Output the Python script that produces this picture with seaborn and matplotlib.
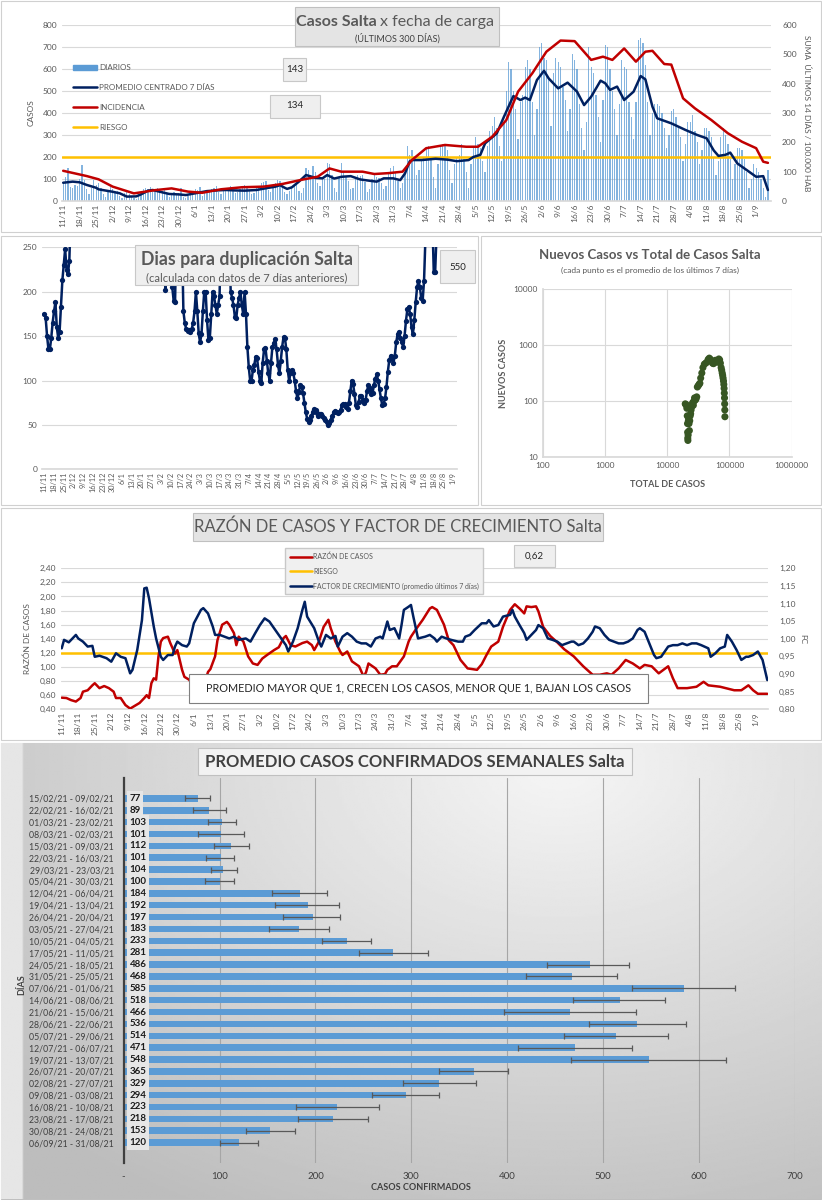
import numpy as np
import pandas as pd
import matplotlib.pyplot as plt
from matplotlib.patches import Rectangle, Patch
from matplotlib.lines import Line2D
import seaborn as sns

W, H = 822, 1200
START = pd.Timestamp('2020-11-11')

# casos diarios (11/11/2020 -> 06/09/2021), una fila por semana
daily_cases = [
    85, 110, 150, 65, 60, 75, 70,
    100, 165, 95, 55, 30, 60, 95,
    75, 80, 60, 30, 20, 45, 65,
    55, 40, 45, 25, 15, 35, 45,
    30, 20, 15, 10, 25, 40, 55,
    60, 55, 65, 40, 45, 60, 50,
    45, 50, 30, 20, 35, 40, 30,
    35, 60, 20, 15, 25, 35, 40,
    55, 50, 65, 25, 35, 45, 50,
    55, 60, 70, 40, 30, 50, 55,
    60, 70, 45, 35, 40, 55, 65,
    75, 60, 45, 30, 35, 60, 70,
    80, 85, 90, 50, 40, 70, 80,
    95, 90, 70, 40, 30, 45, 60,
    70, 75, 45, 35, 60, 150, 140,
    115, 160, 130, 80, 70, 110, 100,
    175, 170, 120, 60, 40, 110, 175,
    135, 110, 90, 55, 60, 110, 120,
    115, 120, 85, 40, 55, 100, 120,
    110, 105, 80, 55, 70, 130, 150,
    160, 130, 90, 60, 80, 125, 250,
    210, 230, 190, 120, 140, 180, 200,
    240, 250, 200, 110, 60, 170, 250,
    260, 250, 230, 140, 80, 170, 200,
    210, 260, 190, 130, 60, 170, 240,
    290, 260, 240, 180, 130, 250, 320,
    340, 380, 330, 250, 180, 350, 500,
    630, 600, 500, 420, 280, 450, 480,
    610, 640, 600, 450, 300, 420, 700,
    720, 650, 640, 560, 340, 580, 650,
    630, 610, 520, 460, 320, 420, 670,
    640, 600, 440, 330, 230, 360, 700,
    610, 580, 480, 380, 270, 460, 710,
    700, 600, 500, 420, 300, 440, 640,
    610, 600, 450, 380, 280, 450, 730,
    740, 720, 620, 450, 300, 400, 440,
    440, 430, 400, 330, 240, 300, 410,
    420, 380, 340, 290, 180, 260, 360,
    360, 390, 320, 270, 170, 230, 330,
    330, 320, 290, 200, 120, 180, 290,
    330, 300, 260, 190, 100, 170, 240,
    240, 230, 190, 130, 60, 100, 170,
    150, 130, 100, 60, 20, 140,
]

# promedio centrado 7 dias (dia desde 11/11, casos)
avg_day = [0, 4, 7, 10, 14, 15, 21, 24, 27, 31, 33, 36, 38, 41, 45, 49, 52, 55, 58, 61,
           65, 69, 73, 77, 82, 86, 90, 92, 94, 95, 97, 100, 103, 105, 107, 110, 112, 115,
           118, 122, 126, 130, 133, 136, 140, 143, 145, 147, 148, 152, 158, 163, 167, 172,
           174, 177, 179, 184, 187, 191, 194, 196, 198, 201, 204, 206, 210, 214, 218, 221,
           224, 228, 230, 232, 235, 238, 242, 245, 247, 250, 252, 258, 264, 269, 273, 276,
           278, 281, 283, 286, 291, 294, 297, 299]
avg_val = [83, 88, 85, 73, 60, 53, 42, 35, 20, 21, 30, 47, 50, 42, 32, 30, 27, 33, 39, 45,
           48, 50, 48, 47, 50, 58, 65, 72, 60, 55, 62, 88, 118, 112, 105, 103, 118, 102,
           110, 113, 98, 92, 88, 103, 103, 95, 125, 180, 186, 186, 192, 188, 181, 186,
           200, 210, 262, 308, 383, 477, 459, 470, 459, 550, 592, 557, 512, 538, 497, 436,
           474, 547, 535, 505, 520, 459, 497, 568, 553, 429, 376, 353, 323, 300, 285, 230,
           205, 210, 220, 171, 133, 110, 113, 50]

# incidencia: suma ultimos 14 dias / 100.000 hab
inc_day = [0, 10, 15, 21, 30, 39, 46, 53, 59, 67, 76, 85, 93, 101, 108, 113, 118, 127,
           132, 138, 144, 148, 154, 162, 171, 176, 182, 188, 193, 199, 205, 211, 217, 224,
           229, 233, 238, 243, 247, 250, 255, 258, 263, 268, 275, 282, 288, 294, 297, 299]
inc_val = [103, 85, 74, 49, 26, 37, 43, 32, 28, 40, 47, 49, 58, 72, 83, 111, 100, 100,
           92, 95, 100, 140, 180, 191, 185, 185, 219, 276, 373, 435, 509, 547, 545, 481,
           492, 481, 520, 475, 509, 512, 467, 465, 350, 316, 276, 231, 202, 180, 134, 130]

riesgo_casos = 200

# dias para duplicacion (valores > 250 quedan fuera del grafico)
dup_vals = [
    175, 170, 150, 135, 135, 148, 165, 178, 188, 160, 148, 155, 183, 213, 230, 248, 225, 220, 235,
    290, 340, 380, 420, 470, 520, 560, 600, 650, 700, 740, 780, 820, 850, 880, 900, 920, 940, 950, 960,
    940, 920, 900, 880, 860, 840, 820, 800, 780, 760, 740, 720, 700, 680, 660, 640, 620, 600, 580, 560,
    540, 520, 500, 480, 460, 440, 420, 400, 390, 380, 370, 360, 350, 340, 330, 320, 310, 300, 295, 290,
    285, 280, 275, 270, 268, 266, 264, 262,
    202,
    280, 300, 290, 270,
    205, 190, 188,
    270, 300, 320, 290, 260,
    178, 165, 158, 156, 157, 155, 158, 165, 178, 200, 178, 153, 143, 152, 178, 200, 200, 168,
    146, 148, 175, 200, 195, 185, 175, 185, 195,
    270, 320, 360, 380, 340, 290, 260,
    200, 193, 185, 172, 170, 185, 193, 200, 185, 175,
    200, 175,
    138, 115, 100, 100, 112, 118, 127, 125, 110, 100,
    97, 120, 135, 137, 122, 108, 100, 120, 138, 142,
    147, 135, 118, 108, 122, 138, 149, 148, 135, 112,
    100, 108, 112, 108, 100, 88, 80, 87, 95, 93,
    86, 75, 64, 57, 53, 55, 60, 65, 68, 67,
    63, 60, 62, 62, 60, 58, 56, 53, 50, 52,
    56, 60, 64, 66, 65, 63, 64, 67, 72, 74,
    73, 70, 68, 75, 88, 100, 96, 85, 72, 70,
    76, 83, 82, 78, 75, 78, 88, 95, 92, 85,
    86, 95, 102, 107, 100, 90, 80, 72, 74, 80,
    93, 110, 123, 128, 125, 120, 128, 143, 152, 155,
    148, 143, 138, 150, 167, 180, 183, 175, 160, 152,
    168, 188, 205, 212, 205, 193, 190, 212,
    260, 300, 340, 330, 290, 280, 222, 222, 265,
    300, 330, 360, 390, 420, 450, 470, 490, 500, 510, 520, 525, 530, 535, 540, 545, 550,
]

# nuevos casos vs total (promedio 7 dias)
total_casos = [19500, 19900, 20300, 20700, 21000, 21200, 21300, 21400, 21500, 21700, 21900,
               22100, 22400, 22700, 23000, 23400, 23800, 24200, 24800, 25300, 25800, 26300,
               26800, 27500, 28200, 29000, 29800, 30500, 31500, 32500, 33500, 34500, 36000,
               37500, 39500, 41500, 43500, 45500, 47500, 49500, 51500, 53500, 55500, 57500,
               59500, 61500, 63500, 65500, 67500, 69500, 71500, 73500, 75000, 76500, 77800,
               79000, 80200, 81200, 82000, 82700, 83300, 83800, 84200, 84500]
nuevos_casos = [90, 88, 85, 75, 55, 40, 28, 22, 20, 25, 45, 50, 40, 30, 45, 55, 60, 70, 80,
                90, 95, 85, 100, 115, 105, 110, 120, 180, 190, 200, 210, 260, 320, 400, 460,
                480, 500, 560, 590, 560, 520, 480, 470, 520, 540, 510, 500, 540, 570, 550,
                480, 400, 360, 320, 290, 260, 230, 200, 170, 140, 115, 90, 70, 53]

# razon de casos (eje izq.)
rc_day = [0, 2, 4, 6, 8, 9, 11, 13, 14, 16, 18, 20, 22, 23, 25, 27, 29, 31, 33, 35, 36, 37,
          38, 39, 40, 41, 42, 43, 45, 46, 48, 49, 51, 52, 54, 56, 58, 59, 61, 62, 63, 65, 66,
          68, 70, 71, 73, 74, 75, 77, 79, 81, 83, 85, 87, 90, 92, 94, 95, 97, 99, 102, 104,
          106, 107, 109, 111, 113, 114, 116, 118, 119, 121, 123, 126, 128, 129, 130, 133, 135,
          137, 138, 140, 142, 145, 147, 148, 150, 153, 156, 157, 159, 162, 164, 166, 169, 172,
          174, 176, 178, 180, 182, 185, 187, 190, 192, 194, 196, 197, 199, 201, 202, 204, 207,
          210, 213, 217, 221, 225, 228, 231, 233, 236, 239, 242, 245, 247, 250, 253, 257, 259,
          261, 265, 269, 272, 274, 279, 285, 288, 291, 293, 295, 299]
rc_val = [0.565, 0.56, 0.53, 0.51, 0.56, 0.65, 0.67, 0.74, 0.77, 0.70, 0.73, 0.70, 0.65, 0.56,
          0.56, 0.46, 0.41, 0.45, 0.49, 0.56, 0.60, 0.56, 0.77, 0.84, 0.82, 1.15, 1.36, 1.41,
          1.43, 1.34, 1.19, 1.24, 0.96, 0.86, 0.82, 0.72, 0.77, 0.84, 0.82, 0.93, 0.97, 1.15,
          1.38, 1.60, 1.64, 1.60, 1.48, 1.31, 1.43, 1.36, 1.15, 1.05, 1.03, 1.12, 1.17, 1.24,
          1.28, 1.41, 1.44, 1.31, 1.29, 1.34, 1.36, 1.31, 1.24, 1.36, 1.57, 1.67, 1.55, 1.36,
          1.22, 1.17, 1.22, 1.08, 1.01, 0.86, 0.93, 1.05, 0.98, 0.89, 0.90, 0.96, 1.01, 1.01,
          1.15, 1.36, 1.43, 1.53, 1.67, 1.83, 1.85, 1.81, 1.60, 1.38, 1.31, 1.10, 0.98, 0.97,
          0.96, 1.04, 1.17, 1.29, 1.36, 1.57, 1.81, 1.89, 1.83, 1.76, 1.86, 1.85, 1.86, 1.79,
          1.57, 1.44, 1.35, 1.25, 1.15, 1.01, 0.89, 0.89, 0.91, 0.89, 0.98, 1.10, 1.05, 0.98,
          1.03, 1.01, 0.91, 1.01, 0.84, 0.70, 0.70, 0.72, 0.79, 0.74, 0.72, 0.67, 0.67, 0.74,
          0.67, 0.62, 0.62]
riesgo_razon = 1.20

# factor de crecimiento (eje der.)
fc_day = [0, 1, 3, 6, 7, 9, 11, 13, 14, 16, 19, 21, 23, 25, 27, 29, 30, 32, 34, 35, 36, 37,
          39, 40, 42, 43, 45, 47, 48, 49, 51, 53, 54, 56, 59, 60, 62, 64, 65, 67, 69, 71, 73,
          75, 78, 80, 82, 84, 86, 88, 90, 92, 95, 96, 98, 100, 102, 103, 104, 107, 109, 110,
          112, 114, 116, 117, 119, 121, 123, 125, 127, 129, 131, 133, 135, 136, 138, 139, 141,
          143, 144, 145, 147, 148, 149, 151, 154, 156, 158, 159, 161, 163, 165, 168, 170, 171,
          173, 175, 178, 180, 181, 183, 185, 187, 190, 191, 192, 194, 196, 197, 199, 201, 202,
          204, 206, 208, 210, 212, 214, 216, 217, 219, 221, 223, 225, 226, 228, 230, 232, 234,
          236, 238, 240, 242, 244, 245, 247, 249, 251, 252, 254, 257, 259, 261, 263, 265, 267,
          269, 271, 274, 275, 277, 279, 281, 282, 284, 286, 288, 290, 291, 293, 295, 297, 299]
fc_val = [0.973, 0.997, 0.990, 1.011, 1.001, 0.992, 0.978, 0.980, 0.949, 0.952, 0.945, 0.935,
          0.959, 0.949, 0.945, 0.902, 0.912, 0.968, 1.053, 1.143, 1.145, 1.115, 1.035, 1.001,
          0.949, 0.940, 0.954, 0.954, 0.978, 0.992, 0.982, 0.978, 0.987, 1.044, 1.082, 1.087,
          1.072, 1.035, 1.011, 1.011, 1.006, 1.001, 1.006, 0.997, 1.001, 0.992, 1.016, 1.039,
          1.058, 1.049, 1.030, 1.011, 0.982, 0.964, 0.992, 1.030, 1.082, 1.105, 1.063, 1.030,
          0.992, 0.978, 1.011, 1.001, 1.008, 0.978, 1.006, 1.016, 1.006, 0.992, 0.987, 0.987,
          0.978, 1.001, 1.006, 1.001, 1.049, 1.025, 1.030, 1.001, 1.039, 1.082, 1.091, 1.096,
          1.063, 1.001, 1.006, 1.011, 1.001, 0.992, 1.006, 1.001, 0.997, 0.992, 0.992, 1.006,
          1.011, 1.025, 1.044, 1.044, 1.053, 1.035, 1.039, 1.063, 1.068, 1.082, 1.063, 1.039,
          1.016, 0.997, 1.011, 1.025, 1.039, 1.030, 1.001, 0.997, 0.992, 0.982, 0.987, 0.992,
          0.992, 0.982, 0.987, 1.001, 1.020, 1.035, 1.030, 1.011, 0.997, 0.992, 0.987, 0.987,
          0.992, 1.001, 1.025, 1.030, 1.020, 0.987, 0.954, 0.945, 0.949, 0.978, 0.982, 0.982,
          0.987, 0.982, 0.987, 0.987, 0.982, 0.973, 0.949, 0.959, 0.973, 0.978, 1.011, 0.992,
          0.968, 0.940, 0.949, 0.949, 0.954, 0.964, 0.940, 0.883]

# promedio semanal
semanas = ['15/02/21 - 09/02/21', '22/02/21 - 16/02/21', '01/03/21 - 23/02/21',
           '08/03/21 - 02/03/21', '15/03/21 - 09/03/21', '22/03/21 - 16/03/21',
           '29/03/21 - 23/03/21', '05/04/21 - 30/03/21', '12/04/21 - 06/04/21',
           '19/04/21 - 13/04/21', '26/04/21 - 20/04/21', '03/05/21 - 27/04/21',
           '10/05/21 - 04/05/21', '17/05/21 - 11/05/21', '24/05/21 - 18/05/21',
           '31/05/21 - 25/05/21', '07/06/21 - 01/06/21', '14/06/21 - 08/06/21',
           '21/06/21 - 15/06/21', '28/06/21 - 22/06/21', '05/07/21 - 29/06/21',
           '12/07/21 - 06/07/21', '19/07/21 - 13/07/21', '26/07/21 - 20/07/21',
           '02/08/21 - 27/07/21', '09/08/21 - 03/08/21', '16/08/21 - 10/08/21',
           '23/08/21 - 17/08/21', '30/08/21 - 24/08/21', '06/09/21 - 31/08/21']
prom_semanal = [77, 89, 103, 101, 112, 101, 104, 100, 184, 192, 197, 183, 233, 281, 486, 468,
                585, 518, 466, 536, 514, 471, 548, 365, 329, 294, 223, 218, 153, 120]
err_min = [64, 72, 88, 78, 94, 86, 91, 85, 155, 158, 166, 152, 207, 245, 442, 420, 530, 469,
           397, 485, 459, 411, 467, 329, 291, 259, 180, 182, 128, 100]
err_max = [90, 107, 117, 125, 131, 115, 118, 115, 212, 225, 226, 214, 258, 317, 527, 515, 638,
           565, 534, 587, 568, 530, 628, 401, 368, 329, 266, 255, 179, 140]

BLUE_BAR = '#5b9bd5'
NAVY = '#002060'
RED = '#c00000'
YELLOW = '#ffc000'
TXT = '#595959'
GRID = '#d9d9d9'

sns.set_theme(style='white')
plt.rcParams['font.family'] = ['Lato', 'DejaVu Sans']

fig = plt.figure(figsize=(W / 100, H / 100), dpi=100)


def rect(x0, y0, x1, y1):
    return [x0 / W, 1 - y1 / H, (x1 - x0) / W, (y1 - y0) / H]


def frame(x0, y0, x1, y1, fc='none', ec='#d0d0d0', lw=0.8, z=-1):
    fig.patches.append(Rectangle((x0 / W, 1 - y1 / H), (x1 - x0) / W, (y1 - y0) / H,
                                 transform=fig.transFigure, facecolor=fc, edgecolor=ec,
                                 lw=lw, zorder=z))


def ftext(x, y, s, **kw):
    kw.setdefault('color', TXT)
    kw.setdefault('ha', 'center')
    kw.setdefault('va', 'center')
    fig.text(x / W, 1 - y / H, s, zorder=6, **kw)


def date_ticks(ax, fs):
    pos = list(range(0, 295, 7))
    labs = [f'{d.day}/{d.month}' for d in (START + pd.to_timedelta(pos, unit='D'))]
    ax.set_xticks(pos)
    ax.set_xticklabels(labs, rotation=90, fontsize=fs, color=TXT)


def clean(ax, keep=('bottom',)):
    for k, sp in ax.spines.items():
        sp.set_visible(k in keep)
        sp.set_color(GRID)


# panel frames
frame(1, 1, 821, 232)
frame(1, 236, 478, 505)
frame(481, 236, 821, 505)
frame(1, 508, 821, 740)

# ---------------- panel 1: casos diarios ----------------
days = np.arange(len(daily_cases))
ax1 = fig.add_axes(rect(62, 25, 771, 201))
sns.barplot(x=days, y=daily_cases, orient='x', color=BLUE_BAR, saturation=1, width=0.55,
            linewidth=0, alpha=0.75, ax=ax1)
ax1.axhline(riesgo_casos, color=YELLOW, lw=1.8, zorder=3)
ax1.plot(avg_day, avg_val, color=NAVY, lw=1.8, zorder=4)
ax1.set_ylim(0, 800)
ax1.set_xlim(-0.5, 300.3)
ax1.set_yticks(range(0, 801, 100))
ax1.yaxis.grid(True, color=GRID, lw=0.8)
ax1.set_axisbelow(True)
clean(ax1)
date_ticks(ax1, 6)
ax1.tick_params(axis='y', labelsize=6, colors=TXT, length=0)
ax1.tick_params(axis='x', length=0, pad=2)
ax1.set_xlabel('')
ax1.set_ylabel('CASOS', fontsize=6, color=TXT, labelpad=6)

ax1r = ax1.twinx()
ax1r.plot(inc_day, inc_val, color=RED, lw=1.8)
ax1r.set_ylim(0, 600)
ax1r.set_yticks(range(0, 601, 100))
clean(ax1r, keep=())
ax1r.tick_params(axis='y', labelsize=6, colors=TXT, length=0, pad=8)
ax1r.set_ylabel('SUMA  ÚLTIMOS 14 DÍAS / 100.000 HAB', fontsize=6, color=TXT,
                rotation=270, labelpad=10)

handles = [Patch(color=BLUE_BAR), Line2D([], [], color=NAVY, lw=1.8),
           Line2D([], [], color=RED, lw=1.8), Line2D([], [], color=YELLOW, lw=1.8)]
ax1r.legend(handles, ['DIARIOS', 'PROMEDIO CENTRADO 7 DÍAS', 'INCIDENCIA', 'RIESGO'],
            loc='upper left', bbox_to_anchor=(0.005, 0.82), frameon=False, fontsize=5.8,
            labelcolor=TXT, handlelength=3.0, handleheight=0.6, labelspacing=1.6,
            handletextpad=0.3)

frame(295, 7, 499, 46, fc='#e4e4e4', ec='#c0c0c0', z=5)
ftext(377, 22, 'Casos Salta', fontsize=11.5, fontweight='bold', ha='right', color='#595959')
ftext(380, 22, 'x fecha de carga', fontsize=11.5, ha='left', color='#595959')
ftext(397, 38, '(ÚLTIMOS 300 DÍAS)', fontsize=6.5, color='#404040')
frame(283, 58, 306, 81, fc='#efefef', ec='#c8c8c8', z=5)
ftext(294.5, 70, '143', fontsize=7, color='#262626')
frame(270, 95, 320, 118, fc='#efefef', ec='#c8c8c8', z=5)
ftext(295, 106, '134', fontsize=7, color='#262626')

# ---------------- panel 2: dias para duplicacion ----------------
ax2 = fig.add_axes(rect(42, 247.3, 457, 469.3))
sns.lineplot(x=np.arange(len(dup_vals)), y=dup_vals, color=NAVY, lw=1.8, marker='o',
             markersize=3.8, markeredgewidth=0, ax=ax2)
ax2.set_ylim(0, 250)
ax2.set_xlim(-1.65, 296.7)
ax2.set_yticks(range(0, 251, 50))
ax2.yaxis.grid(True, color=GRID, lw=0.8)
ax2.set_axisbelow(True)
clean(ax2)
date_ticks(ax2, 5.3)
ax2.tick_params(axis='y', labelsize=6, colors=TXT, length=0)
ax2.tick_params(axis='x', length=0, pad=2)

frame(135, 245, 358, 285, fc='#efefef', ec='#c8c8c8', z=5)
ftext(246.5, 259, 'Dias para duplicación Salta', fontsize=12.8, fontweight='bold')
ftext(246.5, 278, '(calculada con datos de 7 días anteriores)', fontsize=8)
frame(440, 250, 475, 283, fc='#efefef', ec='#c8c8c8', z=5)
ftext(457.5, 267, '550', fontsize=7, color='#262626')

# ---------------- panel 3: nuevos vs total ----------------
ax3 = fig.add_axes(rect(542.7, 289.3, 791.7, 457.3))
sns.scatterplot(x=total_casos, y=nuevos_casos, color='#375623', s=26, edgecolor='none', ax=ax3)
ax3.set_xscale('log')
ax3.set_yscale('log')
ax3.set_xlim(100, 1e6)
ax3.set_ylim(10, 1e4)
ax3.set_xticks([100, 1000, 10000, 100000, 1000000])
ax3.set_xticklabels(['100', '1000', '10000', '100000', '1000000'])
ax3.set_yticks([10, 100, 1000, 10000])
ax3.set_yticklabels(['10', '100', '1000', '10000'])
ax3.minorticks_off()
ax3.grid(True, color=GRID, lw=0.8)
ax3.set_axisbelow(True)
clean(ax3, keep=('bottom', 'left'))
ax3.tick_params(labelsize=6, colors=TXT, length=0)
ax3.set_xlabel('TOTAL DE CASOS', fontsize=6.5, fontweight='bold', color=TXT, labelpad=8)
ax3.set_ylabel('NUEVOS CASOS', fontsize=6.5, fontweight='bold', color=TXT, labelpad=4)
ftext(650, 255, 'Nuevos Casos vs Total de Casos Salta', fontsize=9.5, fontweight='bold')
ftext(650, 270, '(cada punto es el promedio de los últimos 7 días)', fontsize=6)

# ---------------- panel 4: razon de casos / FC ----------------
ax4 = fig.add_axes(rect(61, 568.3, 768, 709.3))
ax4.axhline(riesgo_razon, color=YELLOW, lw=1.8, zorder=3)
sns.lineplot(x=rc_day, y=rc_val, color=RED, lw=1.8, ax=ax4, zorder=4)
ax4.set_ylim(0.4, 2.4)
ax4.set_xlim(-0.3, 299.3)
yt = np.arange(0.4, 2.41, 0.2)
ax4.set_yticks(yt)
ax4.set_yticklabels([f'{v:.2f}'.replace('.', ',') for v in yt])
ax4.yaxis.grid(True, color=GRID, lw=0.8)
ax4.set_axisbelow(True)
clean(ax4)
date_ticks(ax4, 6)
ax4.tick_params(axis='y', labelsize=6, colors=TXT, length=0)
ax4.tick_params(axis='x', length=0, pad=2)
ax4.set_xlabel('')
ax4.set_ylabel('RAZÓN DE CASOS', fontsize=6, color=TXT, labelpad=6)

ax4r = ax4.twinx()
sns.lineplot(x=fc_day, y=fc_val, color=NAVY, lw=1.8, ax=ax4r)
ax4r.set_ylim(0.8, 1.2)
yr = np.arange(0.8, 1.201, 0.05)
ax4r.set_yticks(yr)
ax4r.set_yticklabels([f'{v:.2f}'.replace('.', ',') for v in yr])
clean(ax4r, keep=())
ax4r.tick_params(axis='y', labelsize=6, colors=TXT, length=0, pad=8)
ax4r.set_ylabel('FC', fontsize=6, color=TXT, rotation=270, labelpad=8)

leg = ax4r.legend([Line2D([], [], color=RED, lw=1.8), Line2D([], [], color=YELLOW, lw=1.8),
                   Line2D([], [], color=NAVY, lw=1.8)],
                  ['RAZÓN DE CASOS', 'RIESGO', 'FACTOR DE CRECIMIENTO (promedio últimos 7 días)'],
                  loc='upper left', bbox_to_anchor=(282 / W, 1 - 545 / H),
                  bbox_transform=fig.transFigure, fontsize=5, labelcolor=TXT, fancybox=False,
                  facecolor='#f0f0f0', edgecolor='#c8c8c8', framealpha=1, handlelength=3.2,
                  labelspacing=1.1, borderpad=0.6, handletextpad=0.2)
leg.set_zorder(6)

frame(193, 513, 603, 541, fc='#e4e4e4', ec='#c0c0c0', z=5)
ftext(398, 527, 'RAZÓN DE CASOS Y FACTOR DE CRECIMIENTO Salta', fontsize=12)
frame(514, 545, 555, 567, fc='#efefef', ec='#c8c8c8', z=5)
ftext(534.5, 556, '0,62', fontsize=7, color='#262626')
frame(189, 674, 648, 703, fc='white', ec='#7f7f7f', z=5)
ftext(418.5, 688.5, 'PROMEDIO MAYOR QUE 1, CRECEN LOS CASOS, MENOR QUE 1, BAJAN LOS CASOS',
      fontsize=7.8, color='#262626')

# ---------------- panel 5: promedio semanal ----------------
bg = fig.add_axes(rect(1, 743, 821, 1199))
gx, gy = np.meshgrid(np.linspace(0, 1, 300), np.linspace(0, 1, 300))
shade = 0.96 - 0.22 * np.clip(np.hypot((gx - 0.68) * 1.1, (gy - 0.05) * 0.9), 0, 1)
shade[:, :8] = 0.9
bg.imshow(shade, cmap='gray', vmin=0, vmax=1, aspect='auto', extent=(0, 1, 1, 0))
bg.set_axis_off()
frame(1, 743, 821, 1199, ec='#bfbfbf', z=-1)

ax5 = fig.add_axes(rect(123.7, 777.6, 794.7, 1163.4))
ax5.patch.set_alpha(0)
sns.barplot(x=prom_semanal, y=semanas, orient='y', color=BLUE_BAR, saturation=1, width=0.55,
            linewidth=0, ax=ax5, zorder=2)
pos = np.arange(len(semanas))
vals = np.array(prom_semanal)
ax5.errorbar(vals, pos, xerr=[vals - np.array(err_min), np.array(err_max) - vals], fmt='none',
             ecolor='#595959', elinewidth=0.9, capsize=2.2, capthick=0.9, zorder=3)
for p, v in zip(pos, prom_semanal):
    ax5.text(6, p, str(v), ha='left', va='center', fontsize=7, fontweight='bold',
             color='#1a1a1a', zorder=4,
             bbox=dict(boxstyle='square,pad=0.25', facecolor='#e6e6e6', edgecolor='none'))
ax5.set_xlim(0, 700)
ax5.set_xticks(range(0, 701, 100))
ax5.set_xticklabels(['-'] + [str(v) for v in range(100, 701, 100)])
ax5.xaxis.grid(True, color='#a6a6a6', lw=0.8)
ax5.set_axisbelow(True)
for k, sp in ax5.spines.items():
    sp.set_visible(k == 'left')
ax5.spines['left'].set_color('#404040')
ax5.spines['left'].set_linewidth(1.6)
ax5.tick_params(axis='y', labelsize=6.3, colors='#404040', length=0, pad=7)
ax5.tick_params(axis='x', labelsize=7, colors='#404040', length=0, pad=6)
ax5.set_xlabel('')
ax5.set_ylabel('')

frame(198, 748, 632, 775, fc='#f2f2f2', ec='#c0c0c0', z=5)
ftext(415, 762, 'PROMEDIO CASOS CONFIRMADOS SEMANALES Salta', fontsize=12,
      fontweight='bold', color='#404040')
ftext(421, 1188, 'CASOS CONFIRMADOS', fontsize=6.5, fontweight='bold', color='#404040')
ftext(22, 985, 'DÍAS', fontsize=6.5, fontweight='bold', color='#404040', rotation=90)

fig.savefig('out.png', dpi=100)
